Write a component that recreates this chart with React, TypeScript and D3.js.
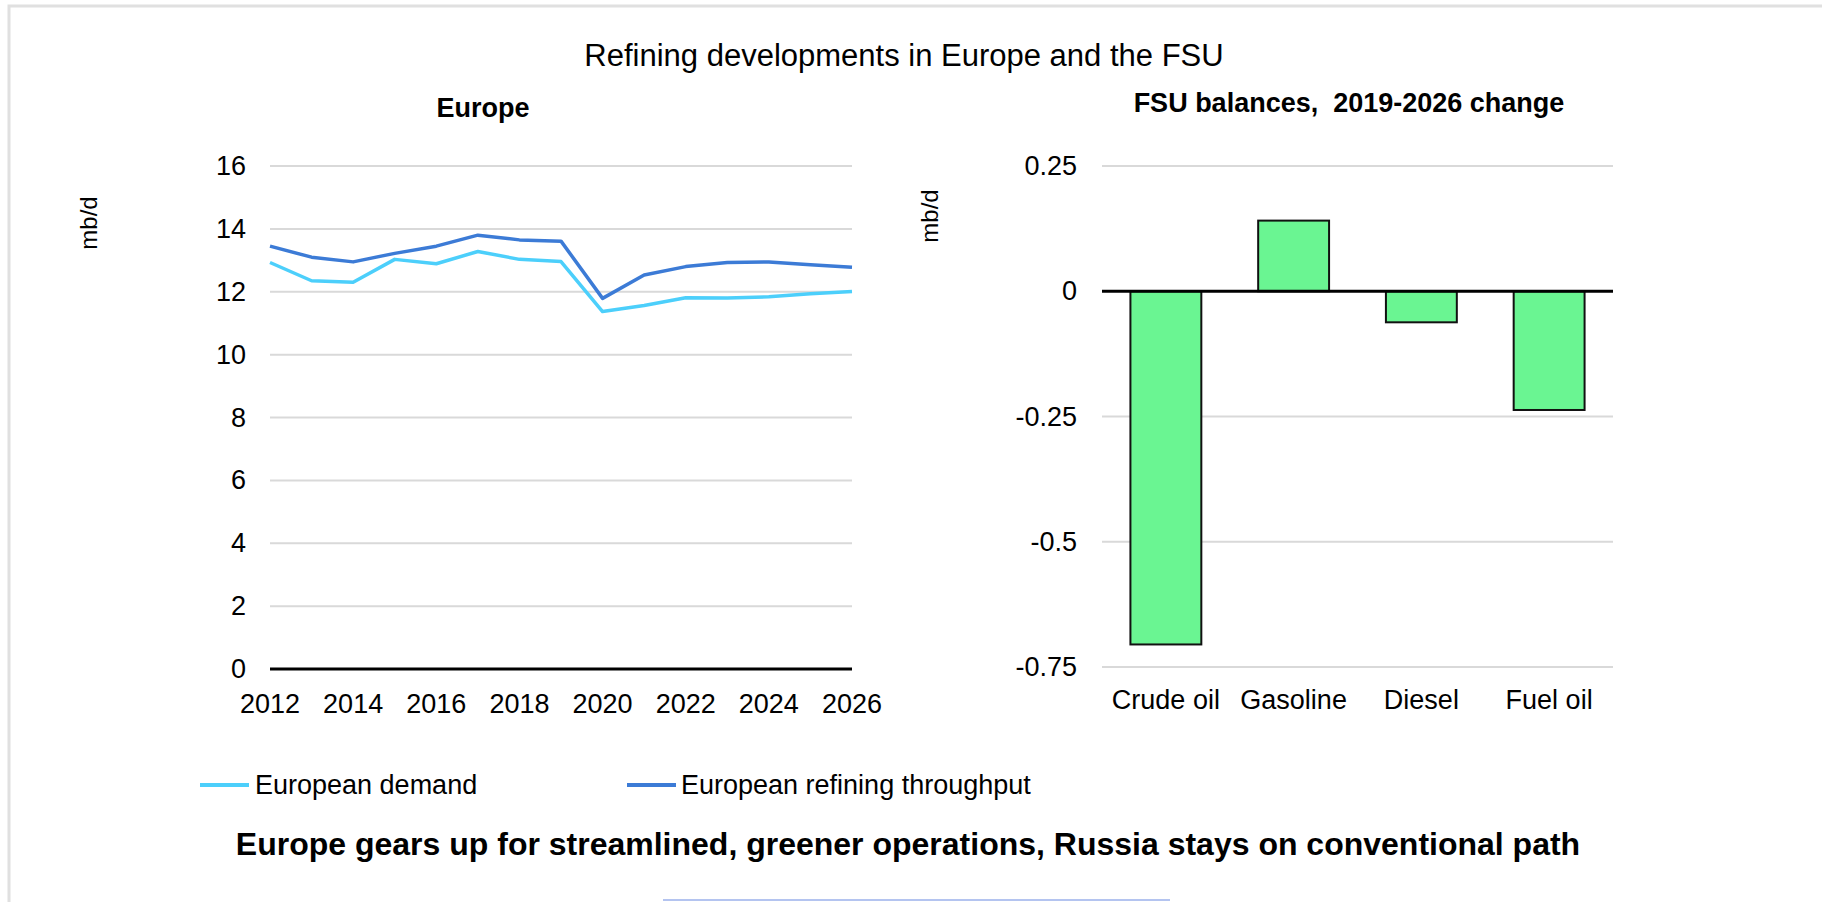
import { line, scaleBand, scaleLinear } from "d3";
import React from "react";

// Europe, mb/d
const years = [2012, 2013, 2014, 2015, 2016, 2017, 2018, 2019, 2020, 2021, 2022, 2023, 2024, 2025, 2026];
const demand = [12.93, 12.35, 12.3, 13.03, 12.89, 13.28, 13.03, 12.96, 11.37, 11.56, 11.81, 11.8, 11.84, 11.94, 12.01];
const throughput = [13.45, 13.1, 12.95, 13.22, 13.45, 13.8, 13.65, 13.61, 11.79, 12.53, 12.8, 12.93, 12.95, 12.86, 12.78];
const leftTicks = [0, 2, 4, 6, 8, 10, 12, 14, 16];
const yearTicks = [2012, 2014, 2016, 2018, 2020, 2022, 2024, 2026];

// FSU balances, 2019-2026 change
const products = ["Crude oil", "Gasoline", "Diesel", "Fuel oil"];
const changes = [-0.705, 0.141, -0.062, -0.237];
const rightTicks = [0.25, 0, -0.25, -0.5, -0.75];

const W = 1822;
const H = 902;
const FONT = "'Liberation Sans', Arial, sans-serif";
const DEMAND = "#4ccffb";
const THRU = "#3c7bd6";
const GRID = "#d9d9d9";
const FS = 27;

const left = { x0: 270, x1: 852, y0: 166, y1: 669 };
const right = { x0: 1102, x1: 1613, y0: 166, y1: 667 };

const xYear = scaleLinear().domain([2012, 2026]).range([left.x0, left.x1]);
const yLeft = scaleLinear().domain([0, 16]).range([left.y1, left.y0]);
const xProd = scaleBand().domain(products).range([right.x0, right.x1]).padding(0);
const yRight = scaleLinear().domain([-0.75, 0.25]).range([right.y1, right.y0]);

const mkLine = (vals: number[]) =>
  line<number>()
    .x((_, i) => xYear(years[i]))
    .y((d) => yLeft(d))(vals) ?? "";

export default function App() {
  const barW = xProd.bandwidth() * 0.555;
  return (
    <svg
      width={W}
      height={H}
      viewBox={`0 0 ${W} ${H}`}
      style={{ position: "absolute", left: 0, top: 0, background: "white" }}
      fontFamily={FONT}
    >
      {/* frame */}
      <path d={`M9,${H} V6 H${W}`} fill="none" stroke="#e0e0e0" strokeWidth={3} />
      <line x1={663} x2={1170} y1={900} y2={900} stroke="#b4c4f0" strokeWidth={2} />

      <text x={904} y={66} textAnchor="middle" fontSize={31} fill="#000">
        Refining developments in Europe and the FSU
      </text>

      {/* left chart */}
      <text x={483} y={117} textAnchor="middle" fontSize={FS} fontWeight="bold">
        Europe
      </text>
      <text
        transform={`translate(88,223) rotate(-90)`}
        textAnchor="middle"
        dominantBaseline="central"
        fontSize={24}
      >
        mb/d
      </text>
      {leftTicks.map((t) => (
        <g key={t}>
          {t !== 0 && (
            <line x1={left.x0} x2={left.x1} y1={yLeft(t)} y2={yLeft(t)} stroke={GRID} strokeWidth={2} />
          )}
          <text x={246} y={yLeft(t)} textAnchor="end" dominantBaseline="central" fontSize={FS}>
            {t}
          </text>
        </g>
      ))}
      <line x1={left.x0} x2={left.x1} y1={yLeft(0)} y2={yLeft(0)} stroke="#000" strokeWidth={3} />
      {yearTicks.map((y) => (
        <text key={y} x={xYear(y)} y={704} textAnchor="middle" dominantBaseline="central" fontSize={FS}>
          {y}
        </text>
      ))}
      <path d={mkLine(demand)} fill="none" stroke={DEMAND} strokeWidth={3.5} strokeLinejoin="round" />
      <path d={mkLine(throughput)} fill="none" stroke={THRU} strokeWidth={3.5} strokeLinejoin="round" />

      {/* legend */}
      <line x1={200} x2={249} y1={785} y2={785} stroke={DEMAND} strokeWidth={4} />
      <text x={255} y={785} dominantBaseline="central" fontSize={FS}>
        European demand
      </text>
      <line x1={627} x2={676} y1={785} y2={785} stroke={THRU} strokeWidth={4} />
      <text x={681} y={785} dominantBaseline="central" fontSize={FS}>
        European refining throughput
      </text>

      {/* right chart */}
      <text x={1349} y={112} textAnchor="middle" fontSize={FS} fontWeight="bold">
        FSU balances,{"\u00a0\u00a0"}2019-2026 change
      </text>
      <text
        transform={`translate(929,216) rotate(-90)`}
        textAnchor="middle"
        dominantBaseline="central"
        fontSize={24}
      >
        mb/d
      </text>
      {rightTicks.map((t) => (
        <g key={t}>
          {t !== 0 && (
            <line x1={right.x0} x2={right.x1} y1={yRight(t)} y2={yRight(t)} stroke={GRID} strokeWidth={2} />
          )}
          <text x={1077} y={yRight(t)} textAnchor="end" dominantBaseline="central" fontSize={FS}>
            {t}
          </text>
        </g>
      ))}
      {products.map((p, i) => {
        const v = changes[i];
        const y = yRight(Math.max(0, v));
        const h = Math.abs(yRight(v) - yRight(0));
        const cx = (xProd(p) ?? 0) + xProd.bandwidth() / 2;
        return (
          <g key={p}>
            <rect x={cx - barW / 2} y={y} width={barW} height={h} fill="#6af592" stroke="#111" strokeWidth={2} />
            <text x={cx} y={700} textAnchor="middle" dominantBaseline="central" fontSize={FS}>
              {p}
            </text>
          </g>
        );
      })}
      <line x1={right.x0} x2={right.x1} y1={yRight(0)} y2={yRight(0)} stroke="#000" strokeWidth={3} />

      <text x={908} y={844} textAnchor="middle" dominantBaseline="central" fontSize={32} fontWeight="bold">
        Europe gears up for streamlined, greener operations, Russia stays on conventional path
      </text>
    </svg>
  );
}
